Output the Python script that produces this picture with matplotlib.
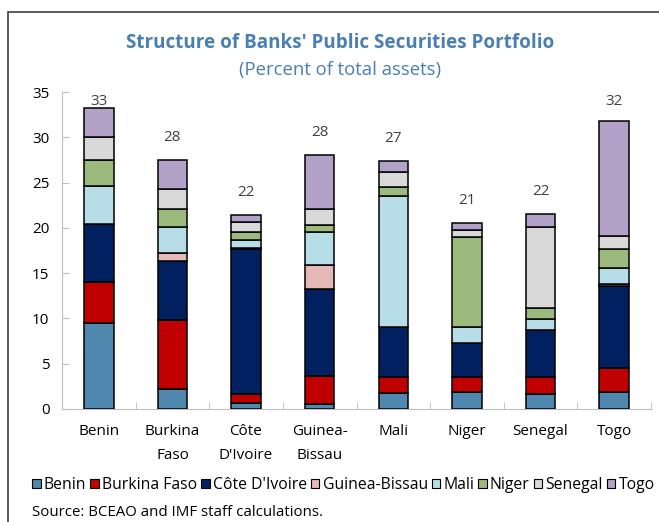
import matplotlib
matplotlib.use("Agg")
import matplotlib.pyplot as plt
from matplotlib.patches import Rectangle, Patch
import numpy as np

plt.rcParams['font.family'] = ['Open Sans', 'DejaVu Sans']

categories = ["Benin", "Burkina\nFaso", "Côte\nD'Ivoire", "Guinea-\nBissau", "Mali", "Niger", "Senegal", "Togo"]
series_names = ["Benin", "Burkina Faso", "Côte D'Ivoire", "Guinea-Bissau", "Mali", "Niger", "Senegal", "Togo"]

benin        = [9.46, 2.24, 0.63, 0.50, 1.73, 1.84, 1.62, 1.91]
burkina_faso = [4.59, 7.58, 1.03, 3.14, 1.84, 1.73, 1.95, 2.58]
cote_divoire = [6.35, 6.55, 16.00, 9.60, 5.45, 3.75, 5.15, 9.09]
guinea_bissau= [0.00, 0.81, 0.10, 2.65, 0.00, 0.00, 0.00, 0.20]
mali         = [4.20, 2.92, 0.92, 3.60, 14.53, 1.70, 1.18, 1.83]
niger        = [2.85, 1.94, 0.84, 0.80, 1.00, 9.93, 1.25, 2.03]
senegal      = [2.55, 2.21, 1.15, 1.80, 1.65, 0.81, 8.90, 1.44]
togo         = [3.20, 3.25, 0.73, 5.97, 1.20, 0.74, 1.50, 12.76]
total_labels = [33, 28, 22, 28, 27, 21, 22, 32]

series = [benin, burkina_faso, cote_divoire, guinea_bissau, mali, niger, senegal, togo]
colors = ["#4f87ae", "#c00000", "#002060", "#e6b8b7", "#b7dee8", "#9bbb7e", "#d9d9d9", "#b3a2c7"]

fig = plt.figure(figsize=(6.59, 5.22), dpi=100)
ax = fig.add_axes([62/659, 1-409/522, (651-62)/659, (409-92)/522])

x = np.arange(len(categories))
bottom = np.zeros(len(categories))
for vals, col in zip(series, colors):
    ax.bar(x, vals, 0.4, bottom=bottom, color=col, edgecolor="black", linewidth=1.1, zorder=3)
    bottom += np.array(vals)

for xi, tot, lab in zip(x, bottom, total_labels):
    ax.text(xi, min(tot + 2.5, 34.0), str(lab), ha="center", va="center", fontsize=11,
            color="#404040", clip_on=False)

ax.set_xlim(-0.5, 7.5)
ax.set_ylim(0, 35)
ax.set_yticks(range(0, 36, 5))
ax.set_xticks(x)
ax.set_xticklabels(categories, fontsize=11, color="black", linespacing=1.75, va="top")
ax.tick_params(axis='x', length=0, pad=11)
ax.set_xticks(np.arange(-0.5, 8, 1), minor=True)
ax.tick_params(axis='x', which='minor', direction='in', length=5, color="#bfbfbf")
ax.tick_params(axis='y', direction='in', length=5, color="#bfbfbf", labelsize=11, pad=9)
for s in ["top", "right"]:
    ax.spines[s].set_visible(False)
for s in ["left", "bottom"]:
    ax.spines[s].set_color("#bfbfbf")

fig.text(340/659, 1-43/522, "Structure of Banks' Public Securities Portfolio", ha="center", va="center",
         fontsize=13.6, fontweight="bold", color="#4a7fb3")
fig.text(340/659, 1-70/522, "(Percent of total assets)", ha="center", va="center",
         fontsize=13.3, color="#4a7fb3")

handles = [Patch(facecolor=c, edgecolor="black", linewidth=0.8) for c in colors]
fig.legend(handles, series_names, loc="center left", bbox_to_anchor=(32/659, 1-485/522), ncol=8,
           frameon=False, fontsize=11.3, handlelength=0.55, handleheight=0.55, handletextpad=0.2,
           columnspacing=0.25, borderaxespad=0, borderpad=0)

fig.text(32/659, 1-513/522, "Source: BCEAO and IMF staff calculations.", ha="left", va="center", fontsize=10.8)

fig.patches.append(Rectangle((8/659, -0.1), 1.2, 1-12/522+0.1, transform=fig.transFigure,
                             fill=False, edgecolor="#404040", linewidth=1.2))

fig.savefig("out.png", dpi=100)
